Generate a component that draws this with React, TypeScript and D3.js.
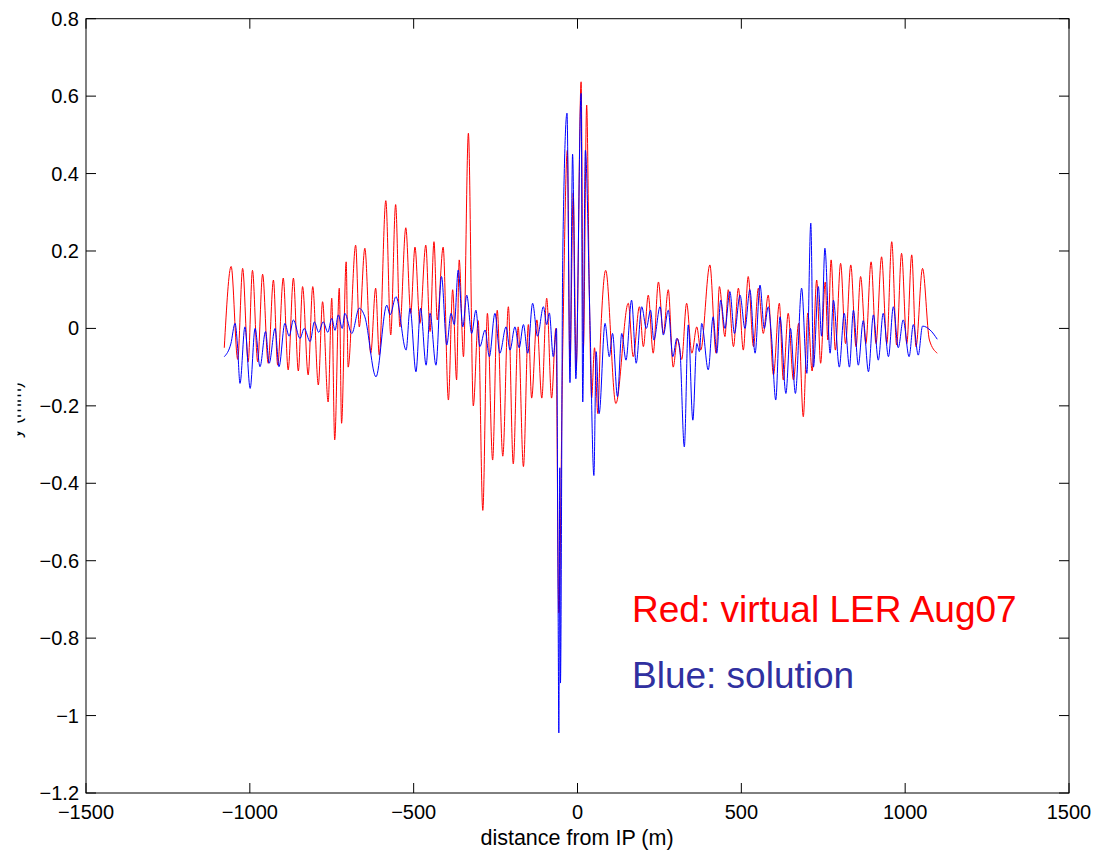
import React from "react";
import * as d3 from "d3";

// Red: virtual LER Aug07 — [distance (m), value]
const redPoints: [number, number][] = [
  [-1078, -0.05], [-1057, 0.16], [-1037, -0.08], [-1022, 0.155], [-1005, -0.086],
  [-992, 0.15], [-976, -0.086], [-961, 0.14], [-944, -0.09], [-928, 0.125],
  [-915, -0.095], [-898, 0.13], [-883, -0.107], [-867, 0.13], [-852, -0.11],
  [-839, 0.108], [-822, -0.12], [-808, 0.108], [-791, -0.146], [-778, 0.069],
  [-761, -0.19], [-750, 0.078], [-741, -0.288], [-727, 0.104], [-720, -0.245],
  [-706, 0.172], [-700, -0.1], [-677, 0.215], [-666, 0.004], [-649, 0.207],
  [-631, -0.064], [-616, 0.104], [-605, -0.069], [-585, 0.33], [-570, -0.017],
  [-555, 0.32], [-542, 0.004], [-524, 0.26], [-509, 0.039], [-496, 0.21],
  [-481, 0.013], [-463, 0.215], [-450, -0.008], [-438, 0.224], [-428, 0.022],
  [-410, 0.21], [-394, -0.185], [-381, 0.1], [-369, -0.133], [-361, 0.177],
  [-348, -0.073], [-333, 0.504], [-318, -0.2], [-303, 0.02], [-289, -0.47],
  [-275, 0.039], [-259, -0.34], [-245, 0.047], [-228, -0.33], [-211, 0.056],
  [-196, -0.35], [-181, 0.004], [-165, -0.357], [-150, 0.01], [-140, -0.18],
  [-124, 0.022], [-109, -0.18], [-94, 0.078], [-79, -0.18], [-66, 0.0],
  [-57, -0.735], [-45, -0.05], [-31, 0.46], [-23, -0.1], [-13, 0.35],
  [-4, -0.1], [11, 0.637], [18, -0.05], [28, 0.577], [36, 0.1],
  [43, -0.18], [52, -0.05], [62, -0.22], [70, -0.03], [86, 0.15],
  [117, -0.194], [155, 0.065], [170, -0.073], [189, 0.056], [201, -0.047],
  [216, 0.086], [231, -0.064], [247, 0.12], [262, -0.013], [277, 0.1],
  [292, -0.1], [305, -0.026], [318, -0.08], [333, 0.065], [349, -0.064],
  [364, 0.004], [376, -0.056], [404, 0.164], [423, -0.064], [433, 0.108],
  [450, -0.021], [460, 0.1], [476, -0.047], [491, 0.104], [506, -0.056],
  [521, 0.134], [537, -0.047], [552, 0.104], [567, -0.013], [582, 0.086],
  [598, -0.12], [616, 0.065], [628, -0.133], [643, 0.039], [659, -0.133],
  [675, 0.013], [689, -0.228], [703, 0.04], [716, -0.11], [730, 0.125],
  [742, -0.09], [756, 0.12], [764, -0.03], [774, 0.177], [787, -0.056],
  [803, 0.168], [818, -0.039], [834, 0.164], [850, -0.047], [864, 0.134],
  [880, -0.039], [896, 0.172], [911, -0.039], [928, 0.185], [944, -0.039],
  [959, 0.224], [974, -0.043], [989, 0.194], [1005, -0.039], [1020, 0.19],
  [1033, -0.047], [1053, 0.155], [1074, -0.03], [1098, -0.064],
];

// Blue: solution — [distance (m), value]
const bluePoints: [number, number][] = [
  [-1078, -0.073], [-1058, -0.04], [-1045, 0.013], [-1038, -0.04], [-1030, -0.142],
  [-1015, 0.004], [-999, -0.155], [-984, 0.0], [-969, -0.099], [-952, -0.008],
  [-941, -0.09], [-923, 0.0], [-911, -0.099], [-893, 0.013], [-880, -0.02],
  [-867, 0.022], [-847, -0.026], [-834, 0.0], [-816, -0.034], [-803, 0.017],
  [-790, -0.01], [-776, 0.017], [-762, -0.01], [-750, 0.026], [-740, -0.005],
  [-730, 0.035], [-718, 0.0], [-710, 0.039], [-689, -0.013], [-666, 0.052],
  [-649, 0.03], [-615, -0.125], [-582, 0.06], [-572, 0.035], [-554, 0.082],
  [-523, -0.056], [-511, 0.052], [-493, -0.112], [-479, 0.052], [-462, -0.095],
  [-450, 0.039], [-432, -0.095], [-415, 0.134], [-399, -0.043], [-386, 0.039],
  [-376, 0.01], [-364, 0.151], [-350, 0.004], [-338, 0.086], [-323, -0.013],
  [-310, 0.047], [-298, -0.047], [-282, -0.004], [-269, -0.073], [-252, 0.039],
  [-237, -0.064], [-218, 0.004], [-206, -0.056], [-191, 0.004], [-178, -0.05],
  [-165, 0.01], [-152, -0.064], [-137, 0.065], [-122, -0.02], [-104, 0.056],
  [-94, 0.01], [-86, 0.04], [-74, -0.073], [-64, 0.0], [-59, -0.75],
  [-57, -1.045], [-54, -0.36], [-52, -0.916], [-45, 0.19], [-32, 0.556],
  [-23, -0.14], [-15, 0.45], [-5, -0.13], [11, 0.607], [16, -0.19],
  [24, 0.46], [38, 0.02], [50, -0.38], [57, -0.06], [66, -0.22],
  [84, 0.013], [97, -0.073], [107, -0.013], [122, -0.176], [135, -0.013],
  [148, -0.082], [165, 0.073], [179, -0.09], [196, 0.056], [210, 0.0],
  [223, 0.047], [233, -0.03], [252, 0.056], [262, -0.017], [277, 0.047],
  [291, -0.073], [303, -0.026], [312, -0.05], [326, -0.306], [338, 0.009],
  [352, -0.237], [364, -0.039], [372, -0.06], [379, 0.013], [399, -0.107],
  [414, 0.03], [425, -0.064], [437, 0.073], [450, 0.0], [465, 0.095],
  [479, -0.013], [496, 0.086], [511, 0.0], [526, 0.1], [542, -0.064],
  [557, 0.112], [570, 0.0], [582, 0.056], [592, -0.02], [605, -0.185],
  [618, 0.03], [636, -0.168], [650, 0.0], [665, -0.168], [684, 0.104],
  [700, -0.116], [712, 0.272], [720, -0.1], [735, 0.108], [745, -0.02],
  [755, 0.207], [771, -0.064], [781, 0.073], [799, -0.1], [814, 0.039],
  [830, -0.1], [842, 0.047], [857, -0.095], [872, 0.02], [888, -0.112],
  [903, 0.035], [918, -0.082], [933, 0.039], [949, -0.073], [964, 0.056],
  [979, -0.05], [994, 0.022], [1012, -0.073], [1025, 0.01], [1040, -0.069],
  [1053, 0.006], [1076, -0.004], [1098, -0.028],
];

const xTicks = [-1500, -1000, -500, 0, 500, 1000, 1500];
const yTicks = [-1.2, -1, -0.8, -0.6, -0.4, -0.2, 0, 0.2, 0.4, 0.6, 0.8];
const xDomain: [number, number] = [-1500, 1500];
const yDomain: [number, number] = [-1.2, 0.8];

const FONT = "'Liberation Sans', Arial, Helvetica, sans-serif";

function fmt(v: number): string {
  const s = String(Math.round(v * 10) / 10);
  return s.replace("-", "\u2212");
}

export default function App() {
  const W = 1104;
  const H = 851;
  const L = 86, R = 1069, T = 18.7, B = 793;
  const x = d3.scaleLinear().domain(xDomain).range([L, R]);
  const y = d3.scaleLinear().domain(yDomain).range([B, T]);
  const line = d3
    .line<[number, number]>()
    .x((d) => x(d[0]))
    .y((d) => y(d[1]))
    .curve(d3.curveMonotoneX);
  const tick = 10;

  return (
    <svg
      width={W}
      height={H}
      style={{ position: "absolute", left: 0, top: 0, background: "#fff" }}
    >
      <defs>
        <clipPath id="ylabclip">
          <rect x={17.5} y={300} width={20} height={220} />
        </clipPath>
      </defs>
      <rect x={0} y={0} width={W} height={H} fill="#fff" />
      <path d={line(redPoints) || ""} fill="none" stroke="#ff0000" strokeWidth={1} />
      <path d={line(bluePoints) || ""} fill="none" stroke="#0000ff" strokeWidth={1} />

      {/* frame */}
      <rect x={L} y={T} width={R - L} height={B - T} fill="none" stroke="#000" strokeWidth={1} />
      {xTicks.map((t) => (
        <g key={"xt" + t}>
          <line x1={x(t)} x2={x(t)} y1={B} y2={B - tick} stroke="#000" />
          <line x1={x(t)} x2={x(t)} y1={T} y2={T + tick} stroke="#000" />
          <text
            x={x(t)}
            y={819}
            textAnchor="middle"
            fontFamily={FONT}
            fontSize={20}
            fill="#000"
          >
            {fmt(t)}
          </text>
        </g>
      ))}
      {yTicks.map((t) => (
        <g key={"yt" + t}>
          <line x1={L} x2={L + tick} y1={y(t)} y2={y(t)} stroke="#000" />
          <line x1={R} x2={R - tick} y1={y(t)} y2={y(t)} stroke="#000" />
          <text
            x={79}
            y={y(t) + 7}
            textAnchor="end"
            fontFamily={FONT}
            fontSize={20}
            fill="#000"
          >
            {fmt(t)}
          </text>
        </g>
      ))}
      <text
        x={577}
        y={845}
        textAnchor="middle"
        fontFamily={FONT}
        fontSize={21.5}
        fill="#000"
      >
        distance from IP (m)
      </text>
      <g clipPath="url(#ylabclip)">
        <text
          transform={`translate(21, 410) rotate(-90)`}
          textAnchor="middle"
          fontFamily={FONT}
          fontSize={18}
          fill="#000"
        >
          y (mm)
        </text>
      </g>
      <text x={632} y={622} fontFamily={FONT} fontSize={37} fill="#ff0000">
        Red: virtual LER Aug07
      </text>
      <text x={632} y={688} fontFamily={FONT} fontSize={37} fill="#3030a0">
        Blue: solution
      </text>
    </svg>
  );
}
